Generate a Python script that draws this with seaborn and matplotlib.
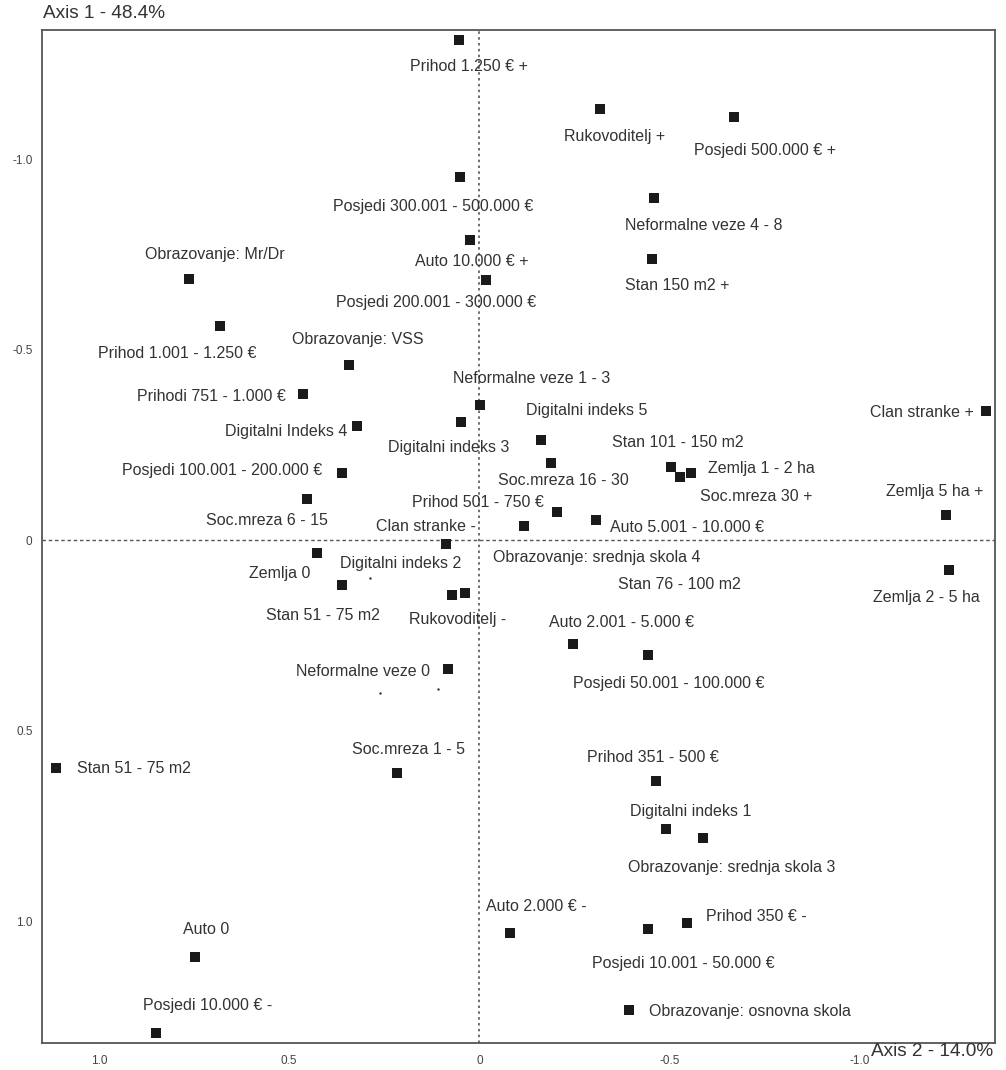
import matplotlib
matplotlib.use("Agg")
import matplotlib.pyplot as plt
import seaborn as sns
import pandas as pd

# ---- data (Axis 2 = horizontal, Axis 1 = vertical) ----
categories = [
    "Prihod 1.250 € +", "Rukovoditelj +", "Posjedi 500.000 € +",
    "Posjedi 300.001 - 500.000 €", "Neformalne veze 4 - 8", "Auto 10.000 € +",
    "Stan 150 m2 +", "Obrazovanje: Mr/Dr", "Posjedi 200.001 - 300.000 €",
    "Prihod 1.001 - 1.250 €", "Obrazovanje: VSS", "Prihodi 751 - 1.000 €",
    "Neformalne veze 1 - 3", "Digitalni indeks 5", "Clan stranke +",
    "Digitalni Indeks 4", "Digitalni indeks 3", "Stan 101 - 150 m2",
    "Zemlja 1 - 2 ha", "Posjedi 100.001 - 200.000 €", "Soc.mreza 16 - 30",
    "Soc.mreza 30 +", "Zemlja 5 ha +", "Prihod 501 - 750 €",
    "Soc.mreza 6 - 15", "Clan stranke -", "Auto 5.001 - 10.000 €",
    "Obrazovanje: srednja skola 4", "Zemlja 0", "Digitalni indeks 2",
    "Stan 76 - 100 m2", "Zemlja 2 - 5 ha", "Stan 51 - 75 m2",
    "Rukovoditelj -", "Auto 2.001 - 5.000 €", "Posjedi 50.001 - 100.000 €",
    "Neformalne veze 0", "Stan 51 - 75 m2", "Soc.mreza 1 - 5",
    "Prihod 351 - 500 €", "Digitalni indeks 1", "Obrazovanje: srednja skola 3",
    "Auto 2.000 € -", "Prihod 350 € -", "Posjedi 10.001 - 50.000 €",
    "Obrazovanje: osnovna skola", "Auto 0", "Posjedi 10.000 € -",
]
axis2_values = [
    0.055, -0.317, -0.669,
    0.052, -0.459, 0.024,
    -0.453, 0.763, -0.018,
    0.681, 0.342, 0.464,
    -0.002, -0.161, -1.331,
    0.322, 0.049, -0.503,
    -0.557, 0.362, -0.187,
    -0.528, -1.227, -0.205,
    0.454, 0.087, -0.307,
    -0.117, 0.428, 0.072,
    -0.307, -1.233, 0.362,
    0.039, -0.247, -0.443,
    0.083, 1.114, 0.218,
    -0.463, -0.491, -0.587,
    -0.079, -0.545, -0.444,
    -0.393, 0.747, 0.850,
]
axis1_values = [
    -1.314, -1.132, -1.110,
    -0.954, -0.899, -0.788,
    -0.739, -0.686, -0.682,
    -0.562, -0.459, -0.383,
    -0.354, -0.262, -0.339,
    -0.300, -0.310, -0.192,
    -0.177, -0.177, -0.203,
    -0.165, -0.067, -0.074,
    -0.107, 0.009, -0.052,
    -0.036, 0.034, 0.144,
    -0.052, 0.079, 0.119,
    0.138, 0.272, 0.302,
    0.337, 0.598, 0.611,
    0.633, 0.758, 0.783,
    1.031, 1.006, 1.022,
    1.234, 1.095, 1.295,
]
# tiny unlabeled points
minor_axis2 = [0.287, 0.261, 0.110]
minor_axis1 = [0.099, 0.400, 0.392]

x_ticks = [1.0, 0.5, 0.0, -0.5, -1.0]
x_tick_labels = ["1.0", "0.5", "0", "-0.5", "-1.0"]
y_ticks = [-1.0, -0.5, 0.0, 0.5, 1.0]
y_tick_labels = ["-1.0", "-0.5", "0", "0.5", "1.0"]
axis1_title = "Axis 1 - 48.4%"
axis2_title = "Axis 2 - 14.0%"

# ---- label placement (pixel offsets from marker, image-down positive; alignment) ----
label_offsets = [
    (10, 27, "center"), (14, 28, "center"), (31, 33, "center"),
    (-26, 30, "center"), (50, 28, "center"), (1, 22, "center"),
    (25, 27, "center"), (26, -24, "center"), (-50, 22, "center"),
    (-43, 27, "center"), (8, -26, "center"), (-17, 2, "right"),
    (51, -27, "center"), (46, -30, "center"), (-12, 2, "right"),
    (-10, 6, "right"), (-12, 25, "center"), (7, -24, "center"),
    (17, -4, "left"), (-19, -2, "right"), (13, 18, "center"),
    (76, 19, "center"), (-12, -23, "center"), (-80, -9, "center"),
    (-40, 21, "center"), (-20, -17, "center"), (14, 7, "left"),
    (73, 31, "center"), (-37, 20, "center"), (-51, -31, "center"),
    (83, 64, "center"), (-22, 27, "center"), (-19, 30, "center"),
    (-7, 27, "center"), (48, -21, "center"), (21, 28, "center"),
    (-18, 3, "right"), (21, 1, "left"), (12, -23, "center"),
    (-3, -24, "center"), (24, -17, "center"), (29, 29, "center"),
    (27, -26, "center"), (19, -7, "left"), (35, 34, "center"),
    (20, 1, "left"), (11, -28, "center"), (52, -28, "center"),
]

sns.set_style("white")
plt.rcParams["font.family"] = ["Liberation Sans", "DejaVu Sans"]

W, H = 1006, 1070
fig = plt.figure(figsize=(W / 100, H / 100), dpi=100)
left, right, top, bottom = 42.3, 995.0, 30.0, 1043.0
ax = fig.add_axes([left / W, 1 - bottom / H, (right - left) / W, (bottom - top) / H])

df = pd.DataFrame({"label": categories, "axis2": axis2_values, "axis1": axis1_values})
minor = pd.DataFrame({"axis2": minor_axis2, "axis1": minor_axis1})

ax.axhline(0, color="#555555", lw=1.0, ls=(0, (2.5, 2)), zorder=1)
ax.axvline(0, color="#555555", lw=1.2, ls=(0, (1.5, 2)), zorder=1)

sns.scatterplot(data=df, x="axis2", y="axis1", marker="s", s=50, color="#1a1a1a",
                linewidth=0, ax=ax, zorder=3)
sns.scatterplot(data=minor, x="axis2", y="axis1", marker="o", s=3, color="#333333",
                linewidth=0, ax=ax, zorder=3)

for (lab, xv, yv), (dx, dy, ha) in zip(zip(categories, axis2_values, axis1_values), label_offsets):
    ax.annotate(lab, (xv, yv), xytext=(dx, -dy), textcoords="offset pixels",
                ha=ha, va="center", fontsize=11.5, color="#333333", zorder=4)

ax.set_xlim(1.149, -1.355)
ax.set_ylim(1.320, -1.339)
ax.set_xticks(x_ticks)
ax.set_xticklabels(x_tick_labels)
ax.set_yticks(y_ticks)
ax.set_yticklabels(y_tick_labels)
ax.set_xlabel("")
ax.set_ylabel("")
ax.tick_params(axis="both", direction="inout", length=8, width=1.0, color="#555555",
               labelsize=8.5, labelcolor="#444444")
ax.tick_params(axis="x", pad=5)
ax.tick_params(axis="y", pad=3)
for sp in ax.spines.values():
    sp.set_visible(True)
    sp.set_color("#555555")
    sp.set_linewidth(1.3)

fig.text(43 / W, 1 - 13 / H, axis1_title, ha="left", va="center", fontsize=13.7, color="#333333")
fig.text(993 / W, 1 - 1051 / H, axis2_title, ha="right", va="center", fontsize=13.7, color="#333333")

fig.savefig("out.png", dpi=100)
